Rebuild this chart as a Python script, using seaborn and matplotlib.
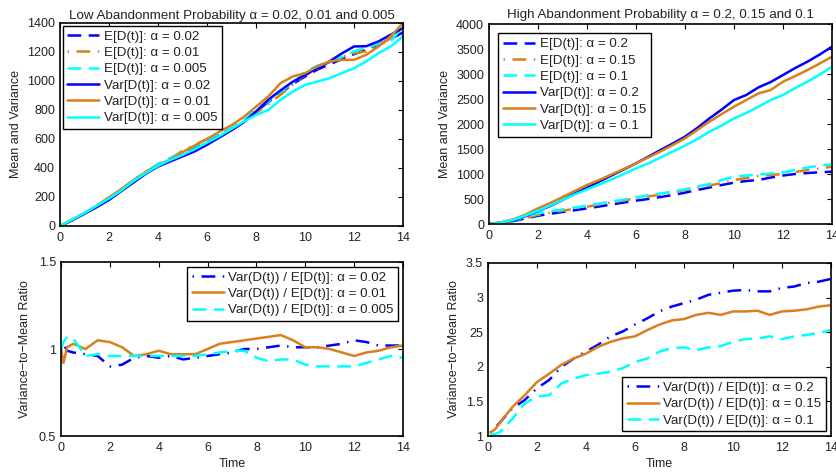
import numpy as np
import pandas as pd
import matplotlib
matplotlib.use("Agg")
import matplotlib.pyplot as plt
import seaborn as sns

# ---------------- data ----------------
t_half = [0, 0.5, 1, 1.5, 2, 2.5, 3, 3.5, 4, 4.5, 5, 5.5, 6, 6.5, 7, 7.5,
          8, 8.5, 9, 9.5, 10, 10.5, 11, 11.5, 12, 12.5, 13, 13.5, 14]

# Low abandonment: mean and variance
e_low_002 = [0, 40, 86, 135, 195, 250, 312, 368, 425, 462, 505, 538, 580, 625, 670, 718,
             788, 855, 915, 980, 1030, 1078, 1115, 1150, 1185, 1215, 1250, 1290, 1335]
e_low_001 = [0, 44, 90, 134, 190, 250, 320, 375, 420, 460, 520, 560, 600, 640, 670, 720,
             780, 840, 905, 975, 1040, 1085, 1130, 1165, 1190, 1205, 1245, 1295, 1370]
e_low_0005 = [0, 43, 90, 140, 195, 250, 318, 372, 428, 470, 510, 550, 595, 640, 680, 725,
              805, 860, 925, 985, 1065, 1105, 1135, 1165, 1205, 1230, 1255, 1275, 1375]
var_low_002 = [0, 40, 85, 130, 180, 240, 300, 360, 410, 445, 480, 515, 560, 610, 660, 715,
               790, 870, 935, 995, 1040, 1090, 1135, 1190, 1238, 1240, 1273, 1319, 1365]
var_low_001 = [0, 45, 90, 140, 198, 255, 315, 370, 418, 460, 510, 555, 600, 650, 695, 752,
               823, 893, 985, 1031, 1054, 1100, 1135, 1146, 1146, 1181, 1238, 1308, 1400]
var_low_0005 = [0, 45, 90, 140, 190, 245, 310, 365, 415, 455, 490, 530, 575, 620, 670, 720,
                766, 800, 870, 927, 973, 996, 1019, 1054, 1088, 1135, 1192, 1238, 1308]

# High abandonment: mean and variance
e_high_02 = [0, 25, 60, 110, 165, 205, 240, 275, 313, 350, 390, 430, 467, 500, 540, 580,
             627, 680, 730, 780, 827, 860, 880, 930, 970, 1000, 1020, 1035, 1047]
e_high_015 = [0, 25, 65, 120, 185, 225, 265, 305, 347, 390, 430, 470, 513, 550, 590, 635,
              680, 720, 770, 820, 880, 920, 960, 980, 1000, 1040, 1080, 1110, 1147]
e_high_01 = [0, 30, 75, 140, 213, 255, 290, 330, 367, 410, 450, 490, 533, 575, 610, 650,
             693, 750, 800, 880, 947, 970, 990, 1010, 1033, 1080, 1130, 1170, 1193]
var_high_02 = [0, 30, 80, 160, 260, 360, 480, 610, 727, 850, 970, 1090, 1213, 1345, 1480, 1610,
               1747, 1920, 2113, 2290, 2480, 2580, 2733, 2840, 2980, 3120, 3247, 3390, 3547]
var_high_015 = [0, 35, 95, 190, 313, 420, 540, 660, 780, 880, 990, 1100, 1213, 1330, 1450, 1580,
                1713, 1880, 2047, 2200, 2347, 2480, 2613, 2680, 2847, 2960, 3080, 3210, 3347]
var_high_01 = [0, 30, 85, 170, 267, 370, 480, 590, 693, 790, 890, 1000, 1113, 1210, 1330, 1450,
               1567, 1700, 1847, 1970, 2113, 2220, 2347, 2480, 2580, 2720, 2847, 2990, 3147]

# Low abandonment: variance-to-mean ratio
t_ratio_low = [0, 0.1, 0.25] + t_half[1:]
r_low_002 = [1.0, 1.03, 0.99, 0.98, 0.97, 0.96, 0.90, 0.91, 0.95, 0.96, 0.95, 0.96, 0.94, 0.95,
             0.96, 0.97, 0.98, 1.0, 1.0, 1.01, 1.02, 1.01, 1.01, 1.01, 1.02, 1.03, 1.05, 1.04,
             1.02, 1.02, 1.02]
r_low_001 = [1.0, 0.92, 1.01, 1.03, 1.0, 1.05, 1.04, 1.01, 0.96, 0.97, 0.99, 0.97, 0.97, 0.97,
             1.0, 1.03, 1.04, 1.05, 1.06, 1.07, 1.08, 1.05, 1.01, 1.01, 1.0, 0.98, 0.96, 0.98,
             0.99, 1.01, 1.02]
r_low_0005 = [1.0, 1.04, 1.07, 1.06, 0.96, 0.97, 0.96, 0.96, 0.96, 0.96, 0.96, 0.96, 0.96, 0.96,
              0.97, 0.98, 0.99, 0.99, 0.95, 0.93, 0.94, 0.94, 0.91, 0.90, 0.90, 0.90, 0.90, 0.92,
              0.94, 0.96, 0.95]

# High abandonment: variance-to-mean ratio
t_ratio_high = [0.1, 0.3] + t_half[1:]
r_high_02 = [1.05, 1.12, 1.2, 1.4, 1.52, 1.69, 1.81, 2.0, 2.12, 2.22, 2.32, 2.44, 2.51, 2.61,
             2.70, 2.80, 2.87, 2.92, 2.97, 3.04, 3.07, 3.10, 3.11, 3.09, 3.09, 3.14, 3.16, 3.21,
             3.23, 3.27]
r_high_015 = [1.05, 1.1, 1.2, 1.42, 1.59, 1.78, 1.9, 2.03, 2.12, 2.19, 2.29, 2.36, 2.41, 2.44,
              2.53, 2.61, 2.67, 2.69, 2.75, 2.78, 2.75, 2.8, 2.8, 2.81, 2.75, 2.8, 2.81, 2.83,
              2.87, 2.89]
r_high_01 = [1.02, 1.03, 1.06, 1.25, 1.47, 1.57, 1.59, 1.76, 1.83, 1.88, 1.9, 1.93, 1.98, 2.07,
             2.12, 2.22, 2.27, 2.28, 2.24, 2.28, 2.3, 2.36, 2.40, 2.41, 2.44, 2.40, 2.44, 2.46,
             2.49, 2.53]

x_ticks = [0, 2, 4, 6, 8, 10, 12, 14]
low_mv_ticks = [0, 200, 400, 600, 800, 1000, 1200, 1400]
high_mv_ticks = [0, 500, 1000, 1500, 2000, 2500, 3000, 3500, 4000]
low_r_ticks = [0.5, 1, 1.5]
low_r_labels = ["0.5", "1", "1.5"]
high_r_ticks = [1, 1.5, 2, 2.5, 3, 3.5]
high_r_labels = ["1", "1.5", "2", "25", "3", "3.5"]

# ---------------- style ----------------
sns.set_theme(style="white")
plt.rcParams["font.family"] = ["Liberation Sans", "DejaVu Sans"]
plt.rcParams.update({
    "xtick.direction": "in", "ytick.direction": "in",
    "xtick.top": True, "ytick.right": True,
    "xtick.major.size": 3.5, "ytick.major.size": 3.5,
    "xtick.major.width": 0.8, "ytick.major.width": 0.8,
    "xtick.major.pad": 4.5, "ytick.major.pad": 3.5,
    "axes.edgecolor": "black", "axes.linewidth": 1.2,
    "xtick.color": "black", "ytick.color": "black",
    "font.size": 9, "xtick.labelsize": 9, "ytick.labelsize": 9,
    "axes.labelsize": 9, "axes.titlesize": 9.6, "legend.fontsize": 9.6,
    "text.color": "#222222", "axes.labelcolor": "#222222",
    "xtick.labelcolor": "#222222", "ytick.labelcolor": "#222222",
})

BLUE = "#0000FF"
ORANGE = "#D9801C"
CYAN = "#00FFFF"
LW = 1.8
DASH = (0, (5.5, 3.0))
DASHDOT = (0, (0.6, 3.0, 5.5, 3.0))

fig = plt.figure(figsize=(8.37, 4.73), dpi=100)
ax_tl = fig.add_axes([0.0717, 0.5222, 0.4098, 0.4292])
ax_tr = fig.add_axes([0.5842, 0.5264, 0.4098, 0.4228])
ax_bl = fig.add_axes([0.0729, 0.0782, 0.4086, 0.3679])
ax_br = fig.add_axes([0.5830, 0.0782, 0.4098, 0.3658])


def draw(ax, t, y, color, ls, label):
    df = pd.DataFrame({"t": t, "y": y})
    sns.lineplot(data=df, x="t", y="y", ax=ax, color=color, linestyle=ls,
                 linewidth=LW, label=label, estimator=None, sort=False)


def legend(ax, loc, pad):
    leg = ax.legend(loc=loc, frameon=True, fancybox=False, framealpha=1,
                    edgecolor="black", handlelength=2.4, handletextpad=0.35,
                    labelspacing=0.3, borderpad=0.35, borderaxespad=pad)
    leg.get_frame().set_linewidth(1.0)
    for txt in leg.get_texts():
        txt.set_color("#222222")


# Top-left
draw(ax_tl, t_half, e_low_002, BLUE, DASH, "E[D(t)]: α = 0.02")
draw(ax_tl, t_half, e_low_001, ORANGE, DASHDOT, "E[D(t)]: α = 0.01")
draw(ax_tl, t_half, e_low_0005, CYAN, DASH, "E[D(t)]: α = 0.005")
draw(ax_tl, t_half, var_low_002, BLUE, "-", "Var[D(t)]: α = 0.02")
draw(ax_tl, t_half, var_low_001, ORANGE, "-", "Var[D(t)]: α = 0.01")
draw(ax_tl, t_half, var_low_0005, CYAN, "-", "Var[D(t)]: α = 0.005")
ax_tl.set_xlim(0, 14)
ax_tl.set_ylim(0, 1400)
ax_tl.set_xticks(x_ticks)
ax_tl.set_yticks(low_mv_ticks)
ax_tl.set_xlabel("")
ax_tl.set_ylabel("Mean and Variance", labelpad=4)
ax_tl.set_title("Low Abandonment Probability α = 0.02, 0.01 and 0.005", pad=3)
legend(ax_tl, "upper left", 0.2)

# Top-right
draw(ax_tr, t_half, e_high_02, BLUE, DASH, "E[D(t)]: α = 0.2")
draw(ax_tr, t_half, e_high_015, ORANGE, DASHDOT, "E[D(t)]: α = 0.15")
draw(ax_tr, t_half, e_high_01, CYAN, DASH, "E[D(t)]: α = 0.1")
draw(ax_tr, t_half, var_high_02, BLUE, "-", "Var[D(t)]: α = 0.2")
draw(ax_tr, t_half, var_high_015, ORANGE, "-", "Var[D(t)]: α = 0.15")
draw(ax_tr, t_half, var_high_01, CYAN, "-", "Var[D(t)]: α = 0.1")
ax_tr.set_xlim(0, 14)
ax_tr.set_ylim(0, 4000)
ax_tr.set_xticks(x_ticks)
ax_tr.set_yticks(high_mv_ticks)
ax_tr.set_xlabel("")
ax_tr.set_ylabel("Mean and Variance", labelpad=4)
ax_tr.set_title("High Abandonment Probability α = 0.2, 0.15 and 0.1", pad=4)
legend(ax_tr, "upper left", 0.7)

# Bottom-left
draw(ax_bl, t_ratio_low, r_low_002, BLUE, DASHDOT, "Var(D(t)) / E[D(t)]: α = 0.02")
draw(ax_bl, t_ratio_low, r_low_001, ORANGE, "-", "Var(D(t)) / E[D(t)]: α = 0.01")
draw(ax_bl, t_ratio_low, r_low_0005, CYAN, DASH, "Var(D(t)) / E[D(t)]: α = 0.005")
ax_bl.set_xlim(0, 14)
ax_bl.set_ylim(0.5, 1.5)
ax_bl.set_xticks(x_ticks)
ax_bl.set_yticks(low_r_ticks)
ax_bl.set_yticklabels(low_r_labels)
ax_bl.set_xlabel("Time", labelpad=2.5)
ax_bl.set_ylabel("Variance\u2212to\u2212Mean Ratio", labelpad=6)
legend(ax_bl, "upper right", 0.35)

# Bottom-right
draw(ax_br, t_ratio_high, r_high_02, BLUE, DASHDOT, "Var(D(t)) / E[D(t)]: α = 0.2")
draw(ax_br, t_ratio_high, r_high_015, ORANGE, "-", "Var(D(t)) / E[D(t)]: α = 0.15")
draw(ax_br, t_ratio_high, r_high_01, CYAN, DASH, "Var(D(t)) / E[D(t)]: α = 0.1")
ax_br.set_xlim(0, 14)
ax_br.set_ylim(1, 3.5)
ax_br.set_xticks(x_ticks)
ax_br.set_yticks(high_r_ticks)
ax_br.set_yticklabels(high_r_labels)
ax_br.set_xlabel("Time", labelpad=2.5)
ax_br.set_ylabel("Variance\u2212to\u2212Mean Ratio", labelpad=4)
legend(ax_br, "lower right", 0.35)

fig.savefig("out.png", dpi=100)
